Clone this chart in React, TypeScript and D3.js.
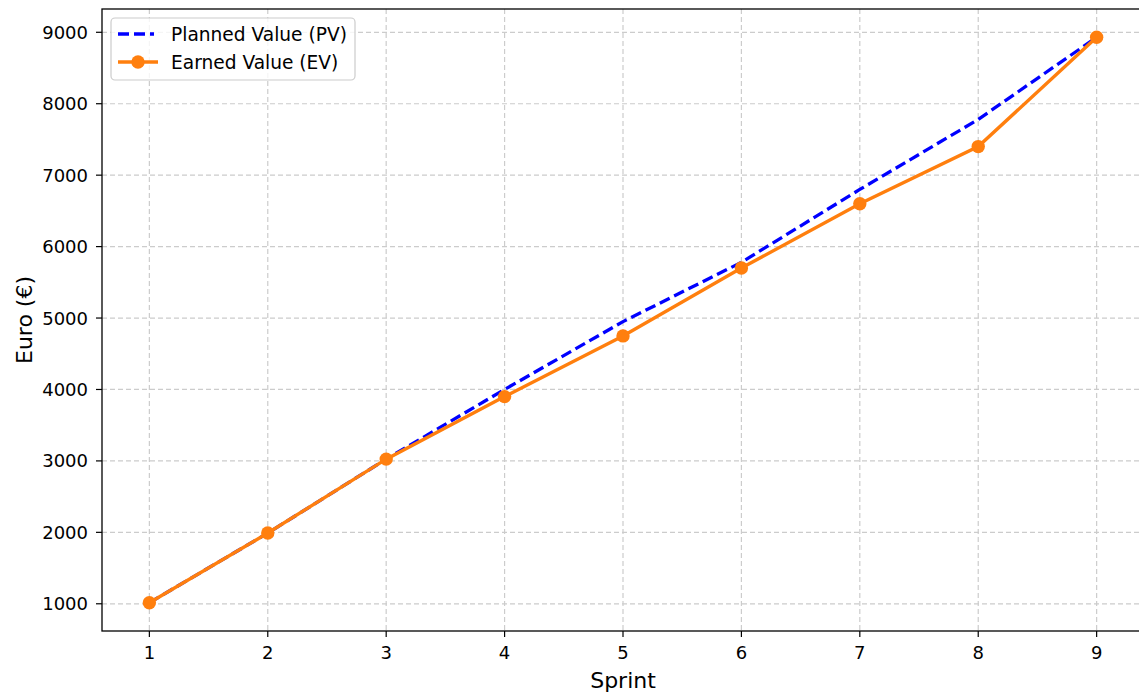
import React from "react";
import * as d3 from "d3";

const sprints = [1, 2, 3, 4, 5, 6, 7, 8, 9];
const plannedValue = [1015, 1990, 3025, 4000, 4950, 5780, 6800, 7780, 8930];
const earnedValue = [1015, 1990, 3025, 3900, 4750, 5700, 6600, 7400, 8930];
const yTicks = [1000, 2000, 3000, 4000, 5000, 6000, 7000, 8000, 9000];
const legendLabels = ["Planned Value (PV)", "Earned Value (EV)"];

const W = 1139;
const H = 693;
const left = 102;
const right = 1144;
const top = 9;
const bottom = 631;
const font = "DejaVu Sans, sans-serif";
const tickFs = 18;
const legendFs = 18.6;
const labelFs = 22;

export default function App() {
  const x = d3.scaleLinear().domain([0.6, 9.4]).range([left, right]);
  const y = d3.scaleLinear().domain([619, 9326]).range([bottom, top]);
  const line = d3
    .line<number>()
    .x((_, i) => x(sprints[i]))
    .y((d) => y(d));

  return (
    <svg
      width={W}
      height={H}
      style={{ position: "absolute", left: 0, top: 0, background: "#fff" }}
    >
      <defs>
        <clipPath id="plot">
          <rect x={left} y={top} width={right - left} height={bottom - top} />
        </clipPath>
      </defs>
      {/* grid */}
      <g stroke="#cccccc" strokeWidth={1.2} strokeDasharray="5,3">
        {sprints.map((s) => (
          <line key={"gx" + s} x1={x(s)} x2={x(s)} y1={top} y2={bottom} />
        ))}
        {yTicks.map((t) => (
          <line key={"gy" + t} x1={left} x2={right} y1={y(t)} y2={y(t)} />
        ))}
      </g>
      {/* lines */}
      <g clipPath="url(#plot)">
        <path
          d={line(plannedValue) || ""}
          fill="none"
          stroke="#0000ff"
          strokeWidth={3.3}
          strokeDasharray="11,5"
        />
        <path
          d={line(earnedValue) || ""}
          fill="none"
          stroke="#ff7f0e"
          strokeWidth={3.4}
        />
        {earnedValue.map((v, i) => (
          <circle key={"m" + i} cx={x(sprints[i])} cy={y(v)} r={6.7} fill="#ff7f0e" />
        ))}
      </g>
      {/* spines */}
      <rect
        x={left}
        y={top}
        width={right - left}
        height={bottom - top}
        fill="none"
        stroke="#000"
        strokeWidth={1.3}
      />
      {/* x ticks */}
      {sprints.map((s) => (
        <g key={"xt" + s}>
          <line x1={x(s)} x2={x(s)} y1={bottom} y2={bottom + 6} stroke="#000" strokeWidth={1.2} />
          <text
            x={x(s)}
            y={659}
            textAnchor="middle"
            fontFamily={font}
            fontSize={tickFs}
            fill="#000"
          >
            {s}
          </text>
        </g>
      ))}
      {/* y ticks */}
      {yTicks.map((t) => (
        <g key={"yt" + t}>
          <line x1={left - 6} x2={left} y1={y(t)} y2={y(t)} stroke="#000" strokeWidth={1.2} />
          <text
            x={left - 14}
            y={y(t)}
            dy="0.36em"
            textAnchor="end"
            fontFamily={font}
            fontSize={tickFs}
            fill="#000"
          >
            {t}
          </text>
        </g>
      ))}
      {/* axis labels */}
      <text
        x={(left + right) / 2}
        y={688}
        textAnchor="middle"
        fontFamily={font}
        fontSize={labelFs}
        fill="#000"
      >
        Sprint
      </text>
      <text
        transform={`translate(32, ${(top + bottom) / 2}) rotate(-90)`}
        textAnchor="middle"
        fontFamily={font}
        fontSize={labelFs}
        fill="#000"
      >
        Euro (€)
      </text>
      {/* legend */}
      <g>
        <rect
          x={111}
          y={18}
          width={244}
          height={62}
          rx={4}
          fill="#fff"
          fillOpacity={0.8}
          stroke="#cccccc"
          strokeWidth={1.2}
        />
        <line
          x1={118}
          x2={154}
          y1={34}
          y2={34}
          stroke="#0000ff"
          strokeWidth={3.3}
          strokeDasharray="11,5"
        />
        <text x={171} y={34} dy="0.36em" fontFamily={font} fontSize={legendFs} fill="#000">
          {legendLabels[0]}
        </text>
        <line x1={118} x2={158} y1={62} y2={62} stroke="#ff7f0e" strokeWidth={3.4} />
        <circle cx={138} cy={62} r={6.7} fill="#ff7f0e" />
        <text x={171} y={62} dy="0.36em" fontFamily={font} fontSize={legendFs} fill="#000">
          {legendLabels[1]}
        </text>
      </g>
    </svg>
  );
}
